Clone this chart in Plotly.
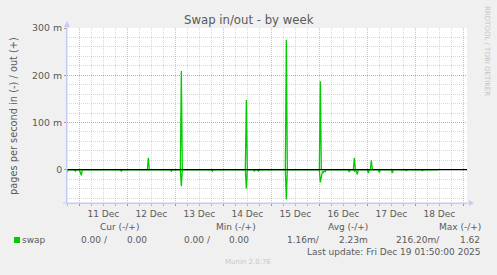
import plotly.graph_objects as go

# ---------------- data ----------------
out_times = ["2025-12-10 17:50", "2025-12-12 10:00", "2025-12-12 10:30", "2025-12-12 11:00",
             "2025-12-13 02:30", "2025-12-13 03:00", "2025-12-13 03:30",
             "2025-12-14 11:00", "2025-12-14 11:30", "2025-12-14 12:00",
             "2025-12-15 07:00", "2025-12-15 07:30", "2025-12-15 08:00",
             "2025-12-16 00:00", "2025-12-16 00:30", "2025-12-16 01:00",
             "2025-12-16 17:00", "2025-12-16 17:30", "2025-12-16 18:00",
             "2025-12-17 01:30", "2025-12-17 02:00", "2025-12-17 02:30",
             "2025-12-18 11:30"]
out_vals = [0, 0, 0.025, 0,
            0, 0.209, 0,
            0, 0.148, 0,
            0, 0.275, 0,
            0, 0.187, 0,
            0, 0.025, 0,
            0, 0.020, 0,
            0]

in_times = ["2025-12-10 17:50", "2025-12-10 18:30", "2025-12-10 21:30", "2025-12-10 22:00", "2025-12-10 22:30",
            "2025-12-11 00:00", "2025-12-11 00:30", "2025-12-11 01:00", "2025-12-11 01:30",
            "2025-12-11 20:30", "2025-12-11 21:00", "2025-12-11 21:30",
            "2025-12-12 21:30", "2025-12-12 22:00", "2025-12-12 22:30",
            "2025-12-13 02:30", "2025-12-13 03:00", "2025-12-13 03:30",
            "2025-12-13 18:00", "2025-12-13 18:30", "2025-12-13 19:00",
            "2025-12-14 11:00", "2025-12-14 11:30", "2025-12-14 12:00",
            "2025-12-14 15:00", "2025-12-14 15:30", "2025-12-14 16:00",
            "2025-12-14 17:00", "2025-12-14 17:30", "2025-12-14 18:00",
            "2025-12-15 07:00", "2025-12-15 07:30", "2025-12-15 08:00",
            "2025-12-16 00:00", "2025-12-16 00:30", "2025-12-16 01:00", "2025-12-16 01:30",
            "2025-12-16 02:00", "2025-12-16 02:30", "2025-12-16 03:00", "2025-12-16 03:30",
            "2025-12-16 14:30", "2025-12-16 15:00", "2025-12-16 15:30",
            "2025-12-16 17:00", "2025-12-16 17:30", "2025-12-16 18:00", "2025-12-16 18:30",
            "2025-12-16 19:00", "2025-12-16 19:30",
            "2025-12-17 00:00", "2025-12-17 00:30", "2025-12-17 01:00",
            "2025-12-17 05:30", "2025-12-17 06:00", "2025-12-17 06:30",
            "2025-12-17 12:00", "2025-12-17 12:30", "2025-12-17 13:00",
            "2025-12-17 19:00", "2025-12-17 19:30", "2025-12-17 20:00",
            "2025-12-18 03:00", "2025-12-18 03:30", "2025-12-18 04:00",
            "2025-12-18 11:30"]
in_vals = [0.005, 0, 0, 0.003, 0,
           0, 0.006, 0.012, 0,
           0, 0.003, 0,
           0, 0.003, 0,
           0, 0.035, 0,
           0, 0.003, 0,
           0, 0.040, 0,
           0, 0.003, 0,
           0, 0.003, 0,
           0, 0.063, 0,
           0, 0.027, 0.014, 0.004,
           0.006, 0.003, 0.004, 0,
           0, 0.005, 0,
           0, 0.003, 0, 0.004,
           0.010, 0,
           0, 0.007, 0,
           0, 0.006, 0,
           0, 0.007, 0,
           0, 0.002, 0,
           0, 0.002, 0,
           0]

y_tickvals = [0, 0.1, 0.2, 0.3]
y_ticktext = ["0", "100 m", "200 m", "300 m"]
x_range = ["2025-12-10 17:50", "2025-12-19 01:50"]
y_range = [-0.0705, 0.3]

legend_headers = ["Cur (-/+)", "Min (-/+)", "Avg (-/+)", "Max (-/+)"]
legend_values = ["0.00 /", "0.00", "0.00 /", "0.00", "1.16m/", "2.23m", "216.20m/", "1.62"]

# ---------------- layout geometry (pixels) ----------------
W, H = 497, 275
L, R, T, B = 67, 467, 28, 203
FONT = "DejaVu Sans"
TXT = "#5a5a5a"
GREEN = "#00CC00"
AXIS = "#c5ccf4"


def px(x):
    return (x - L) / (R - L)


def py(y):
    return (B - y) / (B - T)


fig = go.Figure()
fig.add_trace(go.Scatter(x=out_times, y=out_vals, mode="lines",
                         line=dict(color=GREEN, width=1.3), showlegend=False, hoverinfo="skip"))
fig.add_trace(go.Scatter(x=in_times, y=[-v for v in in_vals], mode="lines",
                         line=dict(color=GREEN, width=1.3), showlegend=False, hoverinfo="skip"))

major_grid = "rgba(230,90,90,0.45)"
minor_grid = "rgba(150,150,150,0.38)"

fig.update_layout(
    width=W, height=H,
    margin=dict(l=L, r=W - R, t=T, b=H - B, pad=0),
    paper_bgcolor="#f0f0f0", plot_bgcolor="#ffffff",
    font=dict(family=FONT, size=9, color=TXT),
    xaxis=dict(type="date", range=x_range, tick0="2025-12-11", dtick=86400000,
               tickformat="%d %b", ticklabelmode="period",
               showgrid=True, gridcolor=major_grid, griddash="1px,1px", gridwidth=1,
               ticks="outside", ticklen=2, tickcolor="#e08080",
               tickfont=dict(family=FONT, size=9, color=TXT),
               showline=True, linecolor=AXIS, linewidth=1, zeroline=False,
               minor=dict(dtick=6 * 3600000, tick0="2025-12-11", showgrid=True,
                          gridcolor=minor_grid, griddash="1px,1px", gridwidth=1,
                          ticks="outside", ticklen=2, tickcolor="#bbbbbb"),
               fixedrange=True),
    yaxis=dict(range=y_range, tickmode="array", tickvals=y_tickvals, ticktext=y_ticktext,
               showgrid=True, gridcolor=major_grid, griddash="1px,1px", gridwidth=1,
               ticks="outside", ticklen=2, tickcolor="#e08080",
               tickfont=dict(family=FONT, size=9.4, color=TXT),
               showline=True, linecolor=AXIS, linewidth=1, zeroline=False,
               minor=dict(tickmode="linear", tick0=0, dtick=0.02, showgrid=True,
                          gridcolor=minor_grid, griddash="1px,1px", gridwidth=1),
               fixedrange=True),
)

shapes = [
    # zero rule
    dict(type="line", xref="paper", yref="y", x0=0, x1=1, y0=0, y1=0,
         line=dict(color="#000000", width=1.2), layer="above"),
    # y axis extension + arrow
    dict(type="line", xref="paper", yref="paper", x0=px(67), x1=px(67), y0=py(B), y1=py(24),
         line=dict(color=AXIS, width=1), layer="above"),
    dict(type="path", xref="paper", yref="paper",
         path=f"M {px(64)} {py(27)} L {px(70)} {py(27)} L {px(67)} {py(21)} Z",
         fillcolor=AXIS, line=dict(width=0), layer="above"),
    # x axis extension + arrow
    dict(type="line", xref="paper", yref="paper", x0=px(63), x1=px(471), y0=py(B), y1=py(B),
         line=dict(color=AXIS, width=1), layer="above"),
    dict(type="path", xref="paper", yref="paper",
         path=f"M {px(469)} {py(200)} L {px(469)} {py(206)} L {px(474)} {py(203)} Z",
         fillcolor=AXIS, line=dict(width=0), layer="above"),
    # legend swatch
    dict(type="rect", xref="paper", yref="paper", x0=px(14), x1=px(20), y0=py(243), y1=py(237),
         fillcolor=GREEN, line=dict(width=0), layer="above"),
]
fig.update_layout(shapes=shapes)

ann = []


def text(t, x, y, xa="left", size=9, color=TXT, angle=0):
    ann.append(dict(text=t, x=px(x), y=py(y), xref="paper", yref="paper", xanchor=xa,
                    yanchor="middle", showarrow=False, textangle=angle,
                    font=dict(family=FONT, size=size, color=color), borderpad=0))


text("Swap in/out - by week", 248.5, 20, xa="center", size=11.7)
text("pages per second in (-) / out (+)", 13, 116, xa="center", size=9.8, angle=-90)
text("RRDTOOL / TOBI OETIKER", 487, 51, xa="center", size=7, color="#c4c4c4", angle=90)

for h, cx in zip(legend_headers, [119, 236, 348, 459.5]):
    text(h, cx, 227, xa="center")
text("swap", 20.5, 239.5)
for v, lx in zip(legend_values, [80, 126, 183, 228, 286, 338, 395, 459]):
    text(v, lx, 239.5)
text("Last update: Fri Dec 19 01:50:00 2025", 482, 251.5, xa="right")
text("Munin 2.0.76", 248, 262, xa="center", size=7, color="#c8c8c8")

fig.update_layout(annotations=ann)

fig.write_html("out.html", config={"displayModeBar": False})
